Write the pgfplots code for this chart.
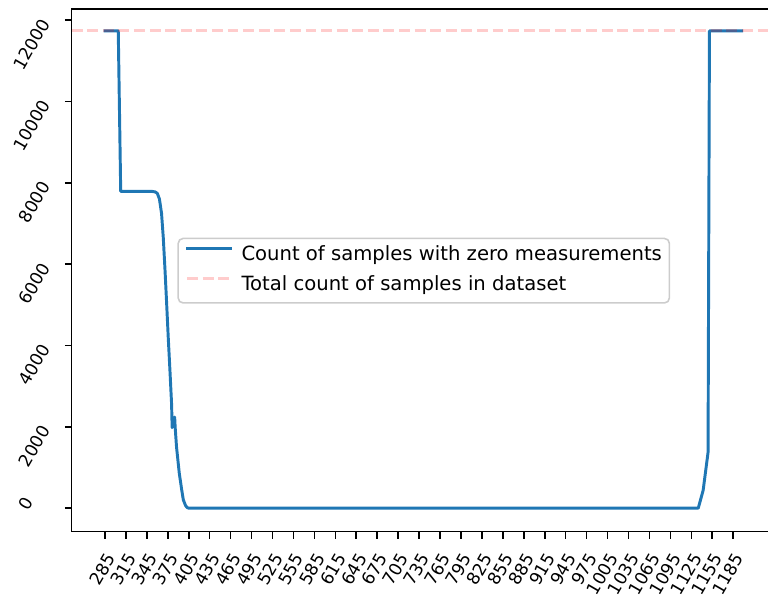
\documentclass[border=0pt]{standalone}
\usepackage{fontspec}
\setmainfont{DejaVu Sans}
\usepackage{pgfplots}
\pgfplotsset{compat=1.18}
\definecolor{mplblue}{HTML}{1F77B4}

\begin{document}
\fontsize{10}{12}\selectfont
\begin{tikzpicture}
\begin{axis}[
  name=main,
  scale only axis,
  width=358.0pt, height=266.6pt,
  xmin=237.3, xmax=1243,
  ymin=-580, ymax=12275,
  scaled ticks=false,
  axis line style={black, line width=0.8pt},
  tick style={black, line width=0.8pt},
  major tick length=3.5pt,
  tick align=outside,
  tick pos=left,
  xtick={285,315,...,1185},
  xticklabels={285,315,345,375,405,435,465,495,525,555,585,615,645,675,705,735,765,795,825,855,885,915,945,975,1005,1035,1065,1095,1125,1155,1185},
  ytick={0,2000,4000,6000,8000,10000,12000},
  yticklabels={{\raisebox{20pt}{0}\hspace{6.85pt}},2000,4000,6000,8000,10000,12000},
  ticklabel style={font=\fontsize{8.8}{10}\selectfont},
  xticklabel style={rotate=60, anchor=north east, inner sep=0pt},
  yticklabel style={rotate=60, anchor=east, inner sep=0pt},
  xticklabel shift=6.5pt,
  yticklabel shift=9.8pt,
  legend cell align=left,
  legend image code/.code={\draw[#1] (0pt,3.5pt) -- (22pt,3.5pt);},
  legend style={
    at={(0.1506,0.5625)}, anchor=north west,
    draw=black!20, line width=0.8pt, rounded corners=2.5pt,
    fill=white, fill opacity=0.8, text opacity=1,
    inner xsep=3.8pt, inner ysep=3.8pt,
    row sep=5.3pt,
    font=\fontsize{10}{12}\selectfont,
    nodes={inner sep=0pt, text height=7.5pt, text depth=2.5pt},
    /tikz/every odd column/.append style={column sep=5.0pt},
  },
]
% number of samples that have a zero reading at each position
\addplot[mplblue, line width=1.5pt, line join=round, line cap=rect] coordinates {
  (285,11738) (304,11738) (307.5,7790) (352,7790) (357,7775) (360,7740)
  (363,7600) (366,7250) (368.5,6650) (371,5850) (373.3,5040) (375.6,4200)
  (378,3400) (380.4,2560) (381.2,1980) (384.8,2240) (385.6,1970) (387.5,1500)
  (391.4,860) (394.9,450) (397.2,204) (400.5,60) (403,10) (405,0)
  (1135,0) (1142,440) (1149,1370) (1151,11738) (1197,11738)
};
\addlegendentry{Count of samples with zero measurements}
% size of the whole dataset
\addplot[red, draw opacity=0.2, line width=1.5pt, dash pattern=on 5.55pt off 2.4pt] coordinates {
  (237.3,11738) (1243,11738)
};
\addlegendentry{Total count of samples in dataset}
\end{axis}
\pgfresetboundingbox
\path[use as bounding box] ([shift={(-36.57pt,-34.32pt)}]main.south west) rectangle ([shift={(355.11pt,271.17pt)}]main.south west);
\end{tikzpicture}
\end{document}
